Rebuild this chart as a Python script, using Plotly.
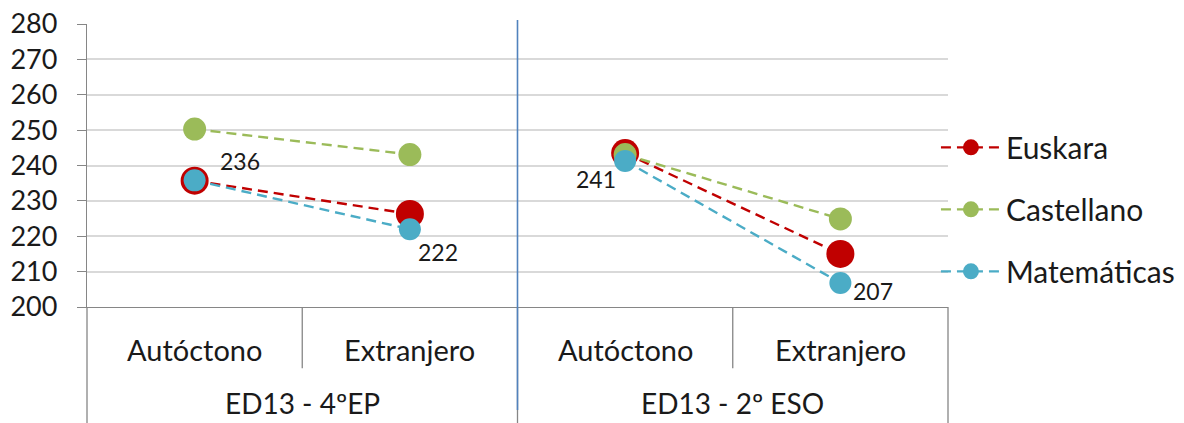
import plotly.graph_objects as go

groups = ["ED13 - 4ºEP", "ED13 - 2º ESO"]
origins = ["Autóctono", "Extranjero"]
series_names = ["Euskara", "Castellano", "Matemáticas"]
euskara = [235.7, 226.3, 243.5, 215.0]
castellano = [250.3, 243.1, 243.1, 224.9]
matematicas = [235.8, 222.0, 241.3, 206.8]
mat_labels = ["236", "222", "241", "207"]
y_ticks = [200, 210, 220, 230, 240, 250, 260, 270, 280]

colors = ["#C00000", "#9BBB59", "#4BACC6"]
marker_sizes = [28, 23, 22]
label_shifts = [(45, 19), (28, -23), (-29, -18), (33, -8)]

FONT = "Lato"
TXT = "#1a1a1a"
AXC = "#868686"

n_groups = len(groups)
n_cat = n_groups * len(origins)

fig = go.Figure()
for name, vals, col, ms in zip(series_names, [euskara, castellano, matematicas], colors, marker_sizes):
    for gi, g in enumerate(groups):
        fig.add_trace(go.Scatter(
            x=[[g] * len(origins), origins],
            y=vals[len(origins) * gi:len(origins) * (gi + 1)],
            mode="lines+markers",
            name=name,
            legendgroup=name,
            showlegend=(gi == 0),
            line=dict(color=col, width=2.4, dash="10px,6px"),
            marker=dict(color=col, size=ms, line=dict(width=0)),
        ))

# data labels for Matemáticas
for i, (v, t, (dx, dy)) in enumerate(zip(matematicas, mat_labels, label_shifts)):
    fig.add_annotation(
        x=(i + 0.5) / n_cat, xref="paper", y=v, yref="y",
        xanchor="center", yanchor="middle",
        text=t, showarrow=False, xshift=dx, yshift=dy,
        font=dict(family=FONT, size=23, color=TXT),
    )

# category labels (two levels)
for i in range(n_cat):
    fig.add_annotation(
        x=(i + 0.5) / n_cat, xref="paper", y=-0.149, yref="paper",
        xanchor="center", yanchor="middle",
        text=origins[i % len(origins)], showarrow=False,
        font=dict(family=FONT, size=29, color=TXT),
    )
for gi, g in enumerate(groups):
    fig.add_annotation(
        x=(gi + 0.5) / n_groups, xref="paper", y=-0.405, yref="paper",
        xanchor="center", yanchor="bottom",
        text=g, showarrow=False,
        font=dict(family=FONT, size=28, color=TXT),
    )

# boundary lines under the axis
for i in range(n_cat + 1):
    outer = (i % len(origins) == 0)
    fig.add_shape(type="line", xref="paper", yref="paper",
                  x0=i / n_cat, x1=i / n_cat, y0=0, y1=(-0.45 if outer else -0.216),
                  line=dict(color=AXC, width=1.3))
# blue separator between the groups
fig.add_shape(type="line", xref="paper", yref="paper",
              x0=0.5, x1=0.5, y0=-0.364, y1=1.014,
              line=dict(color="#5182BD", width=1.6))

fig.update_layout(
    width=1184, height=423,
    margin=dict(l=87, r=236, t=24, b=116, autoexpand=False),
    paper_bgcolor="white", plot_bgcolor="white",
    font=dict(family=FONT, color=TXT),
    legend=dict(
        x=0.986, xanchor="left", y=0.345, yanchor="middle",
        font=dict(family=FONT, size=30, color=TXT),
        tracegroupgap=20, itemwidth=60,
        bgcolor="rgba(0,0,0,0)",
    ),
    xaxis=dict(
        type="multicategory",
        range=[-0.5, n_cat - 0.5],
        showline=True, linecolor=AXC, linewidth=1.3,
        showgrid=False, showticklabels=False, ticks="",
        showdividers=False, automargin=False,
    ),
    yaxis=dict(
        range=[200, 280], tickvals=y_ticks,
        showline=True, linecolor=AXC, linewidth=1.3,
        ticks="outside", ticklen=9, tickcolor=AXC,
        gridcolor="#D9D9D9", gridwidth=1.5,
        tickfont=dict(family=FONT, size=27, color=TXT),
        ticklabelstandoff=14,
        zeroline=False, automargin=False,
    ),
)

fig.write_html(
    "out.html",
    config={"displayModeBar": False},
    post_script="document.body.style.margin='0';document.body.style.overflow='hidden';",
)
